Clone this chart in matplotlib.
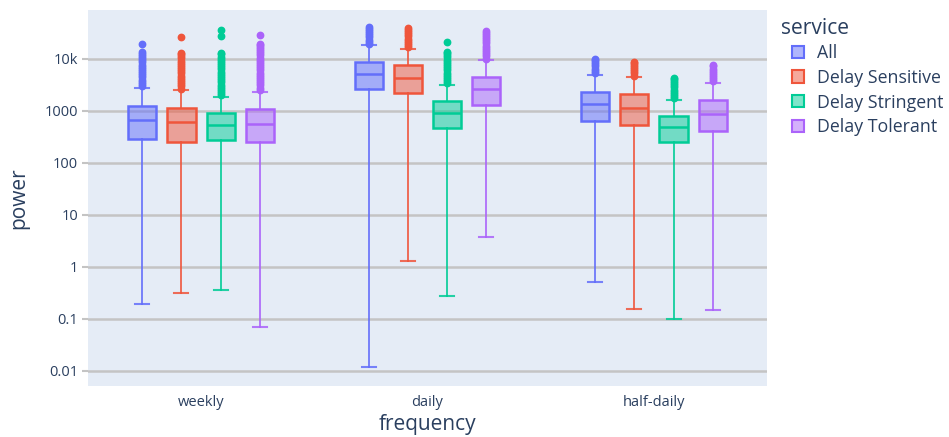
import numpy as np
import matplotlib.pyplot as plt
from matplotlib.patches import Patch
from matplotlib.ticker import FixedLocator, NullLocator

# categories and series
frequencies = ['weekly', 'daily', 'half-daily']
services = ['All', 'Delay Sensitive', 'Delay Stringent', 'Delay Tolerant']
colors = ['#636EFA', '#EF553B', '#00CC96', '#AB63FA']

# box statistics per service, one value per frequency (weekly, daily, half-daily)
q1 = {
    'All': [286, 2610, 634],
    'Delay Sensitive': [257, 2250, 531],
    'Delay Stringent': [277, 464, 250],
    'Delay Tolerant': [250, 1303, 407],
}
median = {
    'All': [671, 5160, 1346],
    'Delay Sensitive': [607, 4250, 1156],
    'Delay Stringent': [531, 903, 492],
    'Delay Tolerant': [562, 2610, 876],
}
q3 = {
    'All': [1265, 8870, 2350],
    'Delay Sensitive': [1156, 7670, 2094],
    'Delay Stringent': [916, 1556, 813],
    'Delay Tolerant': [1093, 4570, 1630],
}
whisker_low = {
    'All': [0.194, 0.0119, 0.515],
    'Delay Sensitive': [0.316, 1.30, 0.156],
    'Delay Stringent': [0.361, 0.277, 0.100],
    'Delay Tolerant': [0.070, 3.77, 0.150],
}
whisker_high = {
    'All': [2735, 18300, 4990],
    'Delay Sensitive': [2500, 15600, 4450],
    'Delay Stringent': [1833, 3162, 1630],
    'Delay Tolerant': [2350, 9440, 3450],
}
# outliers (dense streaks above the upper whisker)
outliers = {
    'All': [
        [3000, 3300, 3630, 4000, 4400, 4840, 5320, 5850, 6440, 7080, 7790, 8570,
         9430, 10370, 11400, 12550, 13800, 19200],
        [19500, 21450, 23600, 25950, 28550, 31400, 34550, 38000, 40700],
        [5400, 5940, 6530, 7190, 7900, 8700, 9570, 10000],
    ],
    'Delay Sensitive': [
        [2700, 2970, 3270, 3590, 3950, 4350, 4780, 5260, 5790, 6370, 7000, 7700,
         8470, 9320, 10250, 11280, 12400, 12900, 26800],
        [16800, 18500, 20300, 22400, 24600, 27100, 29800, 32800, 36000, 38900],
        [4800, 5280, 5810, 6390, 7030, 7730, 8500, 8650],
    ],
    'Delay Stringent': [
        [2000, 2200, 2420, 2660, 2930, 3220, 3540, 3900, 4290, 4720, 5190, 5710,
         6280, 6910, 7600, 8360, 9190, 10110, 11120, 12230, 12900, 27400, 36100],
        [3400, 3740, 4110, 4530, 4980, 5480, 6020, 6630, 7290, 8020, 8820, 9700,
         10670, 11740, 12900, 13800, 21200],
        [1760, 1940, 2130, 2340, 2580, 2840, 3120, 3430, 3780, 4150, 4370],
    ],
    'Delay Tolerant': [
        [2550, 2800, 3090, 3390, 3730, 4110, 4520, 4970, 5470, 6010, 6610, 7280,
         8000, 8800, 9680, 10650, 11720, 12890, 14180, 15600, 17160, 18500, 19200, 28900],
        [10200, 11200, 12300, 13600, 14900, 16400, 18100, 19900, 21900, 24000,
         26400, 29100, 32000, 35000],
        [3700, 4070, 4480, 4920, 5420, 5960, 6550, 7210, 7570],
    ],
}

y_ticks = [0.01, 0.1, 1, 10, 100, 1000, 10000]
y_tick_labels = ['0.01', '0.1', '1', '10', '100', '1000', '10k']

text_color = '#2a3f5f'
plt.rcParams['font.family'] = ['Open Sans', 'DejaVu Sans']


def main():
    fig = plt.figure(figsize=(9.49, 4.37), dpi=100)
    ax = fig.add_axes([88 / 949, 1 - 385.5 / 437, 679 / 949, 375.5 / 437])
    ax.set_facecolor('#E5ECF6')

    offsets = [-0.26, -0.087, 0.087, 0.26]
    for j, svc in enumerate(services):
        stats = []
        for i in range(len(frequencies)):
            stats.append({
                'med': median[svc][i], 'q1': q1[svc][i], 'q3': q3[svc][i],
                'whislo': whisker_low[svc][i], 'whishi': whisker_high[svc][i],
                'fliers': outliers[svc][i],
            })
        c = colors[j]
        pos = np.arange(len(frequencies)) + offsets[j]
        ax.bxp(stats, positions=pos, widths=0.124, patch_artist=True,
               manage_ticks=False, zorder=3,
               boxprops=dict(facecolor=c + '80', edgecolor=c, linewidth=1.8),
               medianprops=dict(color=c, linewidth=1.8),
               whiskerprops=dict(color=c, linewidth=1.4, alpha=0.85),
               capprops=dict(color=c, linewidth=1.5, alpha=0.85),
               capwidths=0.062,
               flierprops=dict(marker='o', markersize=4.6, markerfacecolor=c,
                               markeredgecolor=c, linestyle='none'))

    ax.set_yscale('log')
    ax.set_ylim(0.00521, 87500)
    ax.set_xlim(-0.5, 2.5)
    ax.yaxis.set_major_locator(FixedLocator(y_ticks))
    ax.set_yticklabels(y_tick_labels)
    ax.yaxis.set_minor_locator(NullLocator())
    ax.set_xticks(range(len(frequencies)))
    ax.set_xticklabels(frequencies)

    ax.grid(axis='y', color='#c4c4c4', linewidth=1.8, zorder=0)
    ax.set_axisbelow(True)
    for s in ax.spines.values():
        s.set_visible(False)
    ax.tick_params(axis='x', length=0, pad=7, labelsize=10.5, labelcolor=text_color)
    ax.tick_params(axis='y', length=4, width=1.5, color='#c4c4c4', pad=3,
                   labelsize=10.5, labelcolor=text_color)

    ax.set_xlabel('frequency', fontsize=15, color=text_color, labelpad=3)
    ax.set_ylabel('power', fontsize=15, color=text_color, labelpad=11)

    # legend: title placed separately so the entries are indented like the reference
    fig.text(781 / 949, 1 - 28 / 437, 'service', fontsize=15.2, color=text_color,
             va='center', ha='left')
    handles = [Patch(facecolor=c + '80', edgecolor=c, linewidth=1.5) for c in colors]
    leg = fig.legend(handles, services, loc='upper left',
                     bbox_to_anchor=(792 / 949, 1 - 44 / 437), frameon=False,
                     fontsize=12.8, handlelength=0.68, handleheight=0.68,
                     handletextpad=0.75, labelspacing=0.38, borderpad=0,
                     borderaxespad=0)
    for t in leg.get_texts():
        t.set_color(text_color)

    fig.savefig('out.png', dpi=100)


if __name__ == '__main__':
    main()
